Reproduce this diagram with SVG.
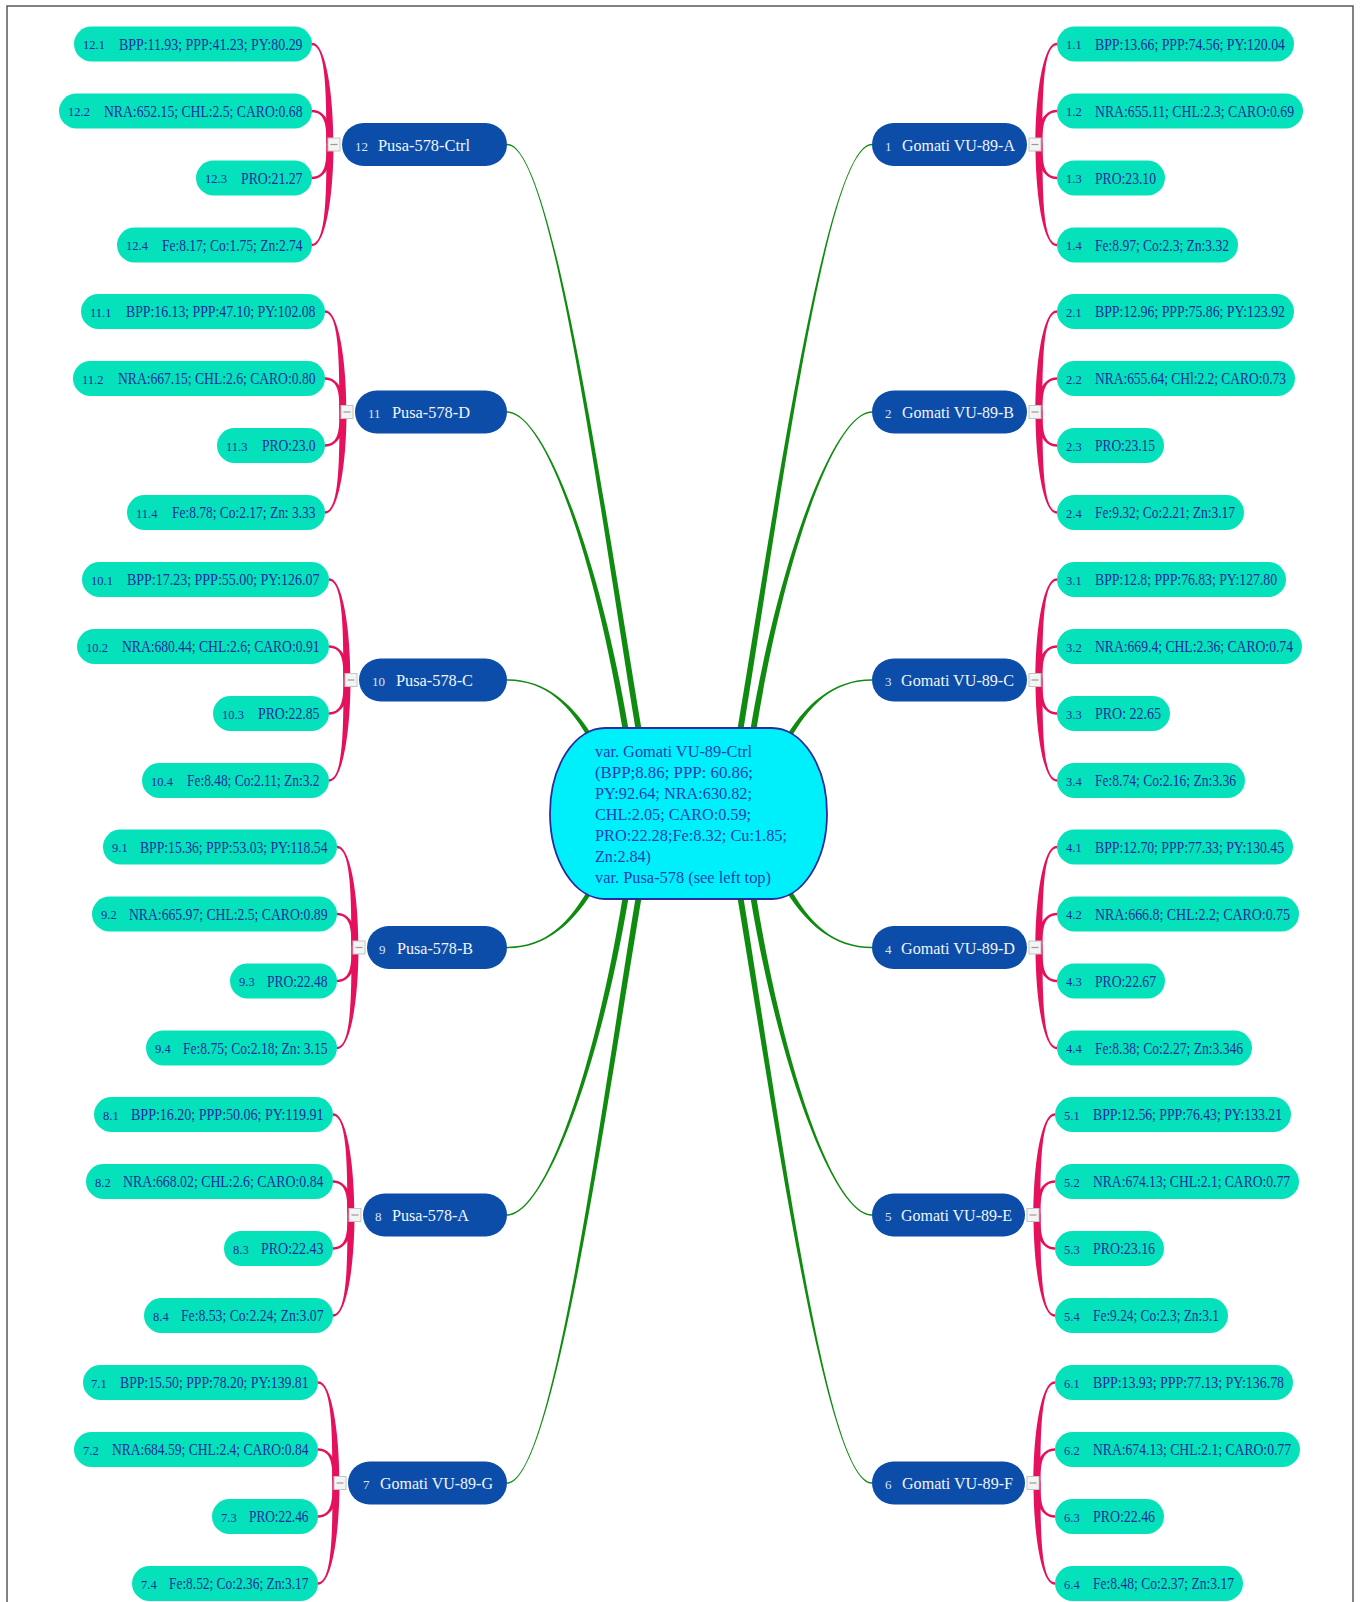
<svg xmlns="http://www.w3.org/2000/svg" xmlns:xlink="http://www.w3.org/1999/xlink" width="1363" height="1602" viewBox="0 0 1363 1602">
<style>
.leaf{fill:#05e2bb}
.ln{font-family:"Liberation Serif","Times New Roman",serif;font-size:12.5px;fill:#1b2b9d}
.lt{font-family:"Liberation Serif","Times New Roman",serif;font-size:16px;fill:#1b2b9d}
.node{fill:#0b4da8}
.nn{font-family:"Liberation Serif","Times New Roman",serif;font-size:13px;fill:#dce4f4}
.nl{font-family:"Liberation Serif","Times New Roman",serif;font-size:17px;fill:#f2f5fb}
.green{fill:#0f8c0f}
.pink{fill:#e5115c}
.ct{font-family:"Liberation Serif","Times New Roman",serif;font-size:17px;fill:#1f3cb4}
</style>
<defs>
<g id="pinkL">
<path class="pink" d="M-0.5,0 C-0.5,-50.25 -8,-101.7 -22,-101.7 L-22,-99.3 C-8,-99.3 -7.5,-50.25 -7.5,0 Z"/>
<path class="pink" d="M-0.5,0 C-0.5,-16.75 -8,-34.7 -22,-34.7 L-22,-32.3 C-8,-32.3 -7.5,-16.75 -7.5,0 Z"/>
<path class="pink" d="M-0.5,0 C-0.5,16.75 -8,34.7 -22,34.7 L-22,32.3 C-8,32.3 -7.5,16.75 -7.5,0 Z"/>
<path class="pink" d="M-0.5,0 C-0.5,50.25 -8,101.7 -22,101.7 L-22,99.3 C-8,99.3 -7.5,50.25 -7.5,0 Z"/>
</g>
<g id="btn">
<rect x="-6" y="-6.5" width="12" height="13" fill="#f4f4f4" stroke="#c4c4c4" stroke-width="1"/>
<line x1="-3.5" y1="0" x2="3.5" y2="0" stroke="#9a9a9a" stroke-width="1.2"/>
</g>
</defs>
<rect x="0" y="0" width="1363" height="1602" fill="#ffffff"/>
<rect x="7" y="6" width="1346" height="1620" fill="none" stroke="#5a5a5a" stroke-width="1.5"/>

<g id="connectors">
<path class="green" d="M507,143.7 C552,143.7 602.5,495 642,732 L636,732 C597.5,495 552,145.3 507,145.3 Z"/>
<path class="green" d="M507,411.2 C545,411.2 600.5,560 629,732 L623,732 C595.5,560 545,412.8 507,412.8 Z"/>
<path class="green" d="M507,679.2 C545,679.2 574.5,703 598,745 L592,745 C569.5,703 545,680.8 507,680.8 Z"/>
<path class="green" d="M507,946.7 C545,946.7 569.5,924.5 592,882.5 L598,882.5 C574.5,924.5 545,948.3 507,948.3 Z"/>
<path class="green" d="M507,1214.2 C545,1214.2 595.5,1067 623,895 L629,895 C600.5,1067 545,1215.8 507,1215.8 Z"/>
<path class="green" d="M507,1482.2 C552,1482.2 597.5,1132 636,895 L642,895 C602.5,1132 552,1483.8 507,1483.8 Z"/>
<path class="green" d="M872,143.7 C827,143.7 776.5,495 737,732 L743,732 C781.5,495 827,145.3 872,145.3 Z"/>
<path class="green" d="M872,411.2 C834,411.2 778.5,560 750,732 L756,732 C783.5,560 834,412.8 872,412.8 Z"/>
<path class="green" d="M872,679.2 C834,679.2 804.5,703 781,745 L787,745 C809.5,703 834,680.8 872,680.8 Z"/>
<path class="green" d="M872,946.7 C834,946.7 809.5,924.5 787,882.5 L781,882.5 C804.5,924.5 834,948.3 872,948.3 Z"/>
<path class="green" d="M872,1214.2 C834,1214.2 783.5,1067 756,895 L750,895 C778.5,1067 834,1215.8 872,1215.8 Z"/>
<path class="green" d="M872,1482.2 C827,1482.2 781.5,1132 743,895 L737,895 C776.5,1132 827,1483.8 872,1483.8 Z"/>
<use xlink:href="#pinkL" href="#pinkL" transform="translate(334,144.5)"/>
<use xlink:href="#pinkL" href="#pinkL" transform="translate(347,412)"/>
<use xlink:href="#pinkL" href="#pinkL" transform="translate(351,680)"/>
<use xlink:href="#pinkL" href="#pinkL" transform="translate(359,947.5)"/>
<use xlink:href="#pinkL" href="#pinkL" transform="translate(355,1215)"/>
<use xlink:href="#pinkL" href="#pinkL" transform="translate(340,1483)"/>
<use xlink:href="#pinkL" href="#pinkL" transform="translate(1035,144.5) scale(-1,1)"/>
<use xlink:href="#pinkL" href="#pinkL" transform="translate(1035,412) scale(-1,1)"/>
<use xlink:href="#pinkL" href="#pinkL" transform="translate(1035,680) scale(-1,1)"/>
<use xlink:href="#pinkL" href="#pinkL" transform="translate(1035,947.5) scale(-1,1)"/>
<use xlink:href="#pinkL" href="#pinkL" transform="translate(1033,1215) scale(-1,1)"/>
<use xlink:href="#pinkL" href="#pinkL" transform="translate(1033,1483) scale(-1,1)"/>
<use xlink:href="#btn" href="#btn" x="334" y="144.5"/>
<use xlink:href="#btn" href="#btn" x="347" y="412"/>
<use xlink:href="#btn" href="#btn" x="351" y="680"/>
<use xlink:href="#btn" href="#btn" x="359" y="947.5"/>
<use xlink:href="#btn" href="#btn" x="355" y="1215"/>
<use xlink:href="#btn" href="#btn" x="340" y="1483"/>
<use xlink:href="#btn" href="#btn" x="1035" y="144.5"/>
<use xlink:href="#btn" href="#btn" x="1035" y="412"/>
<use xlink:href="#btn" href="#btn" x="1035" y="680"/>
<use xlink:href="#btn" href="#btn" x="1035" y="947.5"/>
<use xlink:href="#btn" href="#btn" x="1033" y="1215"/>
<use xlink:href="#btn" href="#btn" x="1033" y="1483"/>
</g>

<g id="center">
<rect x="550" y="728" width="277" height="171" rx="55" ry="85.5" fill="#00f0fb" stroke="#2b2ba0" stroke-width="1.8"/>
<text class="ct" x="595" y="757" textLength="157" lengthAdjust="spacingAndGlyphs">var. Gomati VU-89-Ctrl</text>
<text class="ct" x="595" y="778" textLength="158" lengthAdjust="spacingAndGlyphs">(BPP;8.86; PPP: 60.86;</text>
<text class="ct" x="595" y="799" textLength="157" lengthAdjust="spacingAndGlyphs">PY:92.64; NRA:630.82;</text>
<text class="ct" x="595" y="820" textLength="156" lengthAdjust="spacingAndGlyphs">CHL:2.05; CARO:0.59;</text>
<text class="ct" x="595" y="841" textLength="192" lengthAdjust="spacingAndGlyphs">PRO:22.28;Fe:8.32; Cu:1.85;</text>
<text class="ct" x="595" y="862" textLength="56" lengthAdjust="spacingAndGlyphs">Zn:2.84)</text>
<text class="ct" x="595" y="883" textLength="176" lengthAdjust="spacingAndGlyphs">var. Pusa-578 (see left top)</text>
</g>

<g id="n12"><rect class="node" x="342" y="123" width="165" height="43" rx="21.5"/><text class="nn" x="355" y="150.5">12</text><text class="nl" x="378" y="150.5" textLength="92" lengthAdjust="spacingAndGlyphs">Pusa-578-Ctrl</text></g>
<g id="n11"><rect class="node" x="355" y="390.5" width="152" height="43" rx="21.5"/><text class="nn" x="368" y="418">11</text><text class="nl" x="392" y="418" textLength="78" lengthAdjust="spacingAndGlyphs">Pusa-578-D</text></g>
<g id="n10"><rect class="node" x="359" y="658.5" width="148" height="43" rx="21.5"/><text class="nn" x="372" y="686">10</text><text class="nl" x="396" y="686" textLength="77" lengthAdjust="spacingAndGlyphs">Pusa-578-C</text></g>
<g id="n9"><rect class="node" x="367" y="926" width="140" height="43" rx="21.5"/><text class="nn" x="379" y="953.5">9</text><text class="nl" x="397" y="953.5" textLength="76" lengthAdjust="spacingAndGlyphs">Pusa-578-B</text></g>
<g id="n8"><rect class="node" x="363" y="1193.5" width="144" height="43" rx="21.5"/><text class="nn" x="375" y="1221">8</text><text class="nl" x="392" y="1221" textLength="77" lengthAdjust="spacingAndGlyphs">Pusa-578-A</text></g>
<g id="n7"><rect class="node" x="348" y="1461.5" width="159" height="43" rx="21.5"/><text class="nn" x="363" y="1489">7</text><text class="nl" x="380" y="1489" textLength="113" lengthAdjust="spacingAndGlyphs">Gomati VU-89-G</text></g>
<g id="n1"><rect class="node" x="872" y="123" width="155" height="43" rx="21.5"/><text class="nn" x="885" y="150.5">1</text><text class="nl" x="902" y="150.5" textLength="113" lengthAdjust="spacingAndGlyphs">Gomati VU-89-A</text></g>
<g id="n2"><rect class="node" x="872" y="390.5" width="155" height="43" rx="21.5"/><text class="nn" x="885" y="418">2</text><text class="nl" x="902" y="418" textLength="112" lengthAdjust="spacingAndGlyphs">Gomati VU-89-B</text></g>
<g id="n3"><rect class="node" x="872" y="658.5" width="155" height="43" rx="21.5"/><text class="nn" x="885" y="686">3</text><text class="nl" x="901" y="686" textLength="113" lengthAdjust="spacingAndGlyphs">Gomati VU-89-C</text></g>
<g id="n4"><rect class="node" x="872" y="926" width="155" height="43" rx="21.5"/><text class="nn" x="885" y="953.5">4</text><text class="nl" x="901" y="953.5" textLength="114" lengthAdjust="spacingAndGlyphs">Gomati VU-89-D</text></g>
<g id="n5"><rect class="node" x="872" y="1193.5" width="153" height="43" rx="21.5"/><text class="nn" x="885" y="1221">5</text><text class="nl" x="901" y="1221" textLength="111" lengthAdjust="spacingAndGlyphs">Gomati VU-89-E</text></g>
<g id="n6"><rect class="node" x="872" y="1461.5" width="153" height="43" rx="21.5"/><text class="nn" x="885" y="1489">6</text><text class="nl" x="902" y="1489" textLength="111" lengthAdjust="spacingAndGlyphs">Gomati VU-89-F</text></g>

<g id="n12-1"><rect class="leaf" x="74" y="26.5" width="238" height="35" rx="17.5"/><text class="ln" x="83" y="49">12.1</text><text class="lt" x="119" y="49.5" textLength="183.5" lengthAdjust="spacingAndGlyphs">BPP:11.93; PPP:41.23; PY:80.29</text></g>
<g id="n12-2"><rect class="leaf" x="59" y="93.5" width="253" height="35" rx="17.5"/><text class="ln" x="68" y="116">12.2</text><text class="lt" x="104" y="116.5" textLength="198.5" lengthAdjust="spacingAndGlyphs">NRA:652.15; CHL:2.5; CARO:0.68</text></g>
<g id="n12-3"><rect class="leaf" x="196" y="160.5" width="116" height="35" rx="17.5"/><text class="ln" x="205" y="183">12.3</text><text class="lt" x="241" y="183.5" textLength="61.5" lengthAdjust="spacingAndGlyphs">PRO:21.27</text></g>
<g id="n12-4"><rect class="leaf" x="117" y="227.5" width="195" height="35" rx="17.5"/><text class="ln" x="126" y="250">12.4</text><text class="lt" x="162" y="250.5" textLength="140.5" lengthAdjust="spacingAndGlyphs">Fe:8.17; Co:1.75; Zn:2.74</text></g>

<g id="n11-1"><rect class="leaf" x="81" y="294" width="244" height="35" rx="17.5"/><text class="ln" x="90" y="316.5">11.1</text><text class="lt" x="126" y="317" textLength="189.5" lengthAdjust="spacingAndGlyphs">BPP:16.13; PPP:47.10; PY:102.08</text></g>
<g id="n11-2"><rect class="leaf" x="73" y="361" width="252" height="35" rx="17.5"/><text class="ln" x="82" y="383.5">11.2</text><text class="lt" x="118" y="384" textLength="197.5" lengthAdjust="spacingAndGlyphs">NRA:667.15; CHL:2.6; CARO:0.80</text></g>
<g id="n11-3"><rect class="leaf" x="217" y="428" width="108" height="35" rx="17.5"/><text class="ln" x="226" y="450.5">11.3</text><text class="lt" x="262" y="451" textLength="53.5" lengthAdjust="spacingAndGlyphs">PRO:23.0</text></g>
<g id="n11-4"><rect class="leaf" x="127" y="495" width="198" height="35" rx="17.5"/><text class="ln" x="136" y="517.5">11.4</text><text class="lt" x="172" y="518" textLength="143.5" lengthAdjust="spacingAndGlyphs">Fe:8.78; Co:2.17; Zn: 3.33</text></g>

<g id="n10-1"><rect class="leaf" x="82" y="562" width="247" height="35" rx="17.5"/><text class="ln" x="91" y="584.5">10.1</text><text class="lt" x="127" y="585" textLength="192.5" lengthAdjust="spacingAndGlyphs">BPP:17.23; PPP:55.00; PY:126.07</text></g>
<g id="n10-2"><rect class="leaf" x="77" y="629" width="252" height="35" rx="17.5"/><text class="ln" x="86" y="651.5">10.2</text><text class="lt" x="122" y="652" textLength="197.5" lengthAdjust="spacingAndGlyphs">NRA:680.44; CHL:2.6; CARO:0.91</text></g>
<g id="n10-3"><rect class="leaf" x="213" y="696" width="116" height="35" rx="17.5"/><text class="ln" x="222" y="718.5">10.3</text><text class="lt" x="258" y="719" textLength="61.5" lengthAdjust="spacingAndGlyphs">PRO:22.85</text></g>
<g id="n10-4"><rect class="leaf" x="142" y="763" width="187" height="35" rx="17.5"/><text class="ln" x="151" y="785.5">10.4</text><text class="lt" x="187" y="786" textLength="132.5" lengthAdjust="spacingAndGlyphs">Fe:8.48; Co:2.11; Zn:3.2</text></g>

<g id="n9-1"><rect class="leaf" x="103" y="829.5" width="234" height="35" rx="17.5"/><text class="ln" x="112" y="852">9.1</text><text class="lt" x="140" y="852.5" textLength="187.5" lengthAdjust="spacingAndGlyphs">BPP:15.36; PPP:53.03; PY:118.54</text></g>
<g id="n9-2"><rect class="leaf" x="92" y="896.5" width="245" height="35" rx="17.5"/><text class="ln" x="101" y="919">9.2</text><text class="lt" x="129" y="919.5" textLength="198.5" lengthAdjust="spacingAndGlyphs">NRA:665.97; CHL:2.5; CARO:0.89</text></g>
<g id="n9-3"><rect class="leaf" x="230" y="963.5" width="107" height="35" rx="17.5"/><text class="ln" x="239" y="986">9.3</text><text class="lt" x="267" y="986.5" textLength="60.5" lengthAdjust="spacingAndGlyphs">PRO:22.48</text></g>
<g id="n9-4"><rect class="leaf" x="146" y="1030.5" width="191" height="35" rx="17.5"/><text class="ln" x="155" y="1053">9.4</text><text class="lt" x="183" y="1053.5" textLength="144.5" lengthAdjust="spacingAndGlyphs">Fe:8.75; Co:2.18; Zn: 3.15</text></g>

<g id="n8-1"><rect class="leaf" x="94" y="1097" width="239" height="35" rx="17.5"/><text class="ln" x="103" y="1119.5">8.1</text><text class="lt" x="131" y="1120" textLength="192.5" lengthAdjust="spacingAndGlyphs">BPP:16.20; PPP:50.06; PY:119.91</text></g>
<g id="n8-2"><rect class="leaf" x="86" y="1164" width="247" height="35" rx="17.5"/><text class="ln" x="95" y="1186.5">8.2</text><text class="lt" x="123" y="1187" textLength="200.5" lengthAdjust="spacingAndGlyphs">NRA:668.02; CHL:2.6; CARO:0.84</text></g>
<g id="n8-3"><rect class="leaf" x="224" y="1231" width="109" height="35" rx="17.5"/><text class="ln" x="233" y="1253.5">8.3</text><text class="lt" x="261" y="1254" textLength="62.5" lengthAdjust="spacingAndGlyphs">PRO:22.43</text></g>
<g id="n8-4"><rect class="leaf" x="144" y="1298" width="189" height="35" rx="17.5"/><text class="ln" x="153" y="1320.5">8.4</text><text class="lt" x="181" y="1321" textLength="142.5" lengthAdjust="spacingAndGlyphs">Fe:8.53; Co:2.24; Zn:3.07</text></g>

<g id="n7-1"><rect class="leaf" x="83" y="1365" width="235" height="35" rx="17.5"/><text class="ln" x="91" y="1387.5">7.1</text><text class="lt" x="120" y="1388" textLength="188.5" lengthAdjust="spacingAndGlyphs">BPP:15.50; PPP:78.20; PY:139.81</text></g>
<g id="n7-2"><rect class="leaf" x="74" y="1432" width="244" height="35" rx="17.5"/><text class="ln" x="83" y="1454.5">7.2</text><text class="lt" x="112" y="1455" textLength="196.5" lengthAdjust="spacingAndGlyphs">NRA:684.59; CHL:2.4; CARO:0.84</text></g>
<g id="n7-3"><rect class="leaf" x="212" y="1499" width="106" height="35" rx="17.5"/><text class="ln" x="221" y="1521.5">7.3</text><text class="lt" x="249" y="1522" textLength="59.5" lengthAdjust="spacingAndGlyphs">PRO:22.46</text></g>
<g id="n7-4"><rect class="leaf" x="132" y="1566" width="186" height="35" rx="17.5"/><text class="ln" x="141" y="1588.5">7.4</text><text class="lt" x="169" y="1589" textLength="139.5" lengthAdjust="spacingAndGlyphs">Fe:8.52; Co:2.36; Zn:3.17</text></g>

<g id="n1-1"><rect class="leaf" x="1057" y="26.5" width="237" height="35" rx="17.5"/><text class="ln" x="1066" y="49">1.1</text><text class="lt" x="1095" y="49.5" textLength="190" lengthAdjust="spacingAndGlyphs">BPP:13.66; PPP:74.56; PY:120.04</text></g>
<g id="n1-2"><rect class="leaf" x="1057" y="93.5" width="246" height="35" rx="17.5"/><text class="ln" x="1066" y="116">1.2</text><text class="lt" x="1095" y="116.5" textLength="199" lengthAdjust="spacingAndGlyphs">NRA:655.11; CHL:2.3; CARO:0.69</text></g>
<g id="n1-3"><rect class="leaf" x="1057" y="160.5" width="108" height="35" rx="17.5"/><text class="ln" x="1066" y="183">1.3</text><text class="lt" x="1095" y="183.5" textLength="61" lengthAdjust="spacingAndGlyphs">PRO:23.10</text></g>
<g id="n1-4"><rect class="leaf" x="1057" y="227.5" width="181" height="35" rx="17.5"/><text class="ln" x="1066" y="250">1.4</text><text class="lt" x="1095" y="250.5" textLength="134" lengthAdjust="spacingAndGlyphs">Fe:8.97; Co:2.3; Zn:3.32</text></g>

<g id="n2-1"><rect class="leaf" x="1057" y="294" width="237" height="35" rx="17.5"/><text class="ln" x="1066" y="316.5">2.1</text><text class="lt" x="1095" y="317" textLength="190" lengthAdjust="spacingAndGlyphs">BPP:12.96; PPP:75.86; PY:123.92</text></g>
<g id="n2-2"><rect class="leaf" x="1057" y="361" width="238" height="35" rx="17.5"/><text class="ln" x="1066" y="383.5">2.2</text><text class="lt" x="1095" y="384" textLength="191" lengthAdjust="spacingAndGlyphs">NRA:655.64; CHl:2.2; CARO:0.73</text></g>
<g id="n2-3"><rect class="leaf" x="1057" y="428" width="107" height="35" rx="17.5"/><text class="ln" x="1066" y="450.5">2.3</text><text class="lt" x="1095" y="451" textLength="60" lengthAdjust="spacingAndGlyphs">PRO:23.15</text></g>
<g id="n2-4"><rect class="leaf" x="1057" y="495" width="187" height="35" rx="17.5"/><text class="ln" x="1066" y="517.5">2.4</text><text class="lt" x="1095" y="518" textLength="140" lengthAdjust="spacingAndGlyphs">Fe:9.32; Co:2.21; Zn:3.17</text></g>

<g id="n3-1"><rect class="leaf" x="1057" y="562" width="229" height="35" rx="17.5"/><text class="ln" x="1066" y="584.5">3.1</text><text class="lt" x="1095" y="585" textLength="182" lengthAdjust="spacingAndGlyphs">BPP:12.8; PPP:76.83; PY:127.80</text></g>
<g id="n3-2"><rect class="leaf" x="1057" y="629" width="245" height="35" rx="17.5"/><text class="ln" x="1066" y="651.5">3.2</text><text class="lt" x="1095" y="652" textLength="198" lengthAdjust="spacingAndGlyphs">NRA:669.4; CHL:2.36; CARO:0.74</text></g>
<g id="n3-3"><rect class="leaf" x="1057" y="696" width="113" height="35" rx="17.5"/><text class="ln" x="1066" y="718.5">3.3</text><text class="lt" x="1095" y="719" textLength="66" lengthAdjust="spacingAndGlyphs">PRO: 22.65</text></g>
<g id="n3-4"><rect class="leaf" x="1057" y="763" width="188" height="35" rx="17.5"/><text class="ln" x="1066" y="785.5">3.4</text><text class="lt" x="1095" y="786" textLength="141" lengthAdjust="spacingAndGlyphs">Fe:8.74; Co:2.16; Zn:3.36</text></g>

<g id="n4-1"><rect class="leaf" x="1057" y="829.5" width="236" height="35" rx="17.5"/><text class="ln" x="1066" y="852">4.1</text><text class="lt" x="1095" y="852.5" textLength="189" lengthAdjust="spacingAndGlyphs">BPP:12.70; PPP:77.33; PY:130.45</text></g>
<g id="n4-2"><rect class="leaf" x="1057" y="896.5" width="242" height="35" rx="17.5"/><text class="ln" x="1066" y="919">4.2</text><text class="lt" x="1095" y="919.5" textLength="195" lengthAdjust="spacingAndGlyphs">NRA:666.8; CHL:2.2; CARO:0.75</text></g>
<g id="n4-3"><rect class="leaf" x="1057" y="963.5" width="108" height="35" rx="17.5"/><text class="ln" x="1066" y="986">4.3</text><text class="lt" x="1095" y="986.5" textLength="61" lengthAdjust="spacingAndGlyphs">PRO:22.67</text></g>
<g id="n4-4"><rect class="leaf" x="1057" y="1030.5" width="195" height="35" rx="17.5"/><text class="ln" x="1066" y="1053">4.4</text><text class="lt" x="1095" y="1053.5" textLength="148" lengthAdjust="spacingAndGlyphs">Fe:8.38; Co:2.27; Zn:3.346</text></g>

<g id="n5-1"><rect class="leaf" x="1055" y="1097" width="236" height="35" rx="17.5"/><text class="ln" x="1064" y="1119.5">5.1</text><text class="lt" x="1093" y="1120" textLength="189" lengthAdjust="spacingAndGlyphs">BPP:12.56; PPP:76.43; PY:133.21</text></g>
<g id="n5-2"><rect class="leaf" x="1055" y="1164" width="244" height="35" rx="17.5"/><text class="ln" x="1064" y="1186.5">5.2</text><text class="lt" x="1093" y="1187" textLength="197" lengthAdjust="spacingAndGlyphs">NRA:674.13; CHL:2.1; CARO:0.77</text></g>
<g id="n5-3"><rect class="leaf" x="1055" y="1231" width="109" height="35" rx="17.5"/><text class="ln" x="1064" y="1253.5">5.3</text><text class="lt" x="1093" y="1254" textLength="62" lengthAdjust="spacingAndGlyphs">PRO:23.16</text></g>
<g id="n5-4"><rect class="leaf" x="1055" y="1298" width="173" height="35" rx="17.5"/><text class="ln" x="1064" y="1320.5">5.4</text><text class="lt" x="1093" y="1321" textLength="126" lengthAdjust="spacingAndGlyphs">Fe:9.24; Co:2.3; Zn:3.1</text></g>

<g id="n6-1"><rect class="leaf" x="1055" y="1365" width="238" height="35" rx="17.5"/><text class="ln" x="1064" y="1387.5">6.1</text><text class="lt" x="1093" y="1388" textLength="191" lengthAdjust="spacingAndGlyphs">BPP:13.93; PPP:77.13; PY:136.78</text></g>
<g id="n6-2"><rect class="leaf" x="1055" y="1432" width="245" height="35" rx="17.5"/><text class="ln" x="1064" y="1454.5">6.2</text><text class="lt" x="1093" y="1455" textLength="198" lengthAdjust="spacingAndGlyphs">NRA:674.13; CHL:2.1; CARO:0.77</text></g>
<g id="n6-3"><rect class="leaf" x="1055" y="1499" width="109" height="35" rx="17.5"/><text class="ln" x="1064" y="1521.5">6.3</text><text class="lt" x="1093" y="1522" textLength="62" lengthAdjust="spacingAndGlyphs">PRO:22.46</text></g>
<g id="n6-4"><rect class="leaf" x="1055" y="1566" width="188" height="35" rx="17.5"/><text class="ln" x="1064" y="1588.5">6.4</text><text class="lt" x="1093" y="1589" textLength="141" lengthAdjust="spacingAndGlyphs">Fe:8.48; Co:2.37; Zn:3.17</text></g>
</svg>
